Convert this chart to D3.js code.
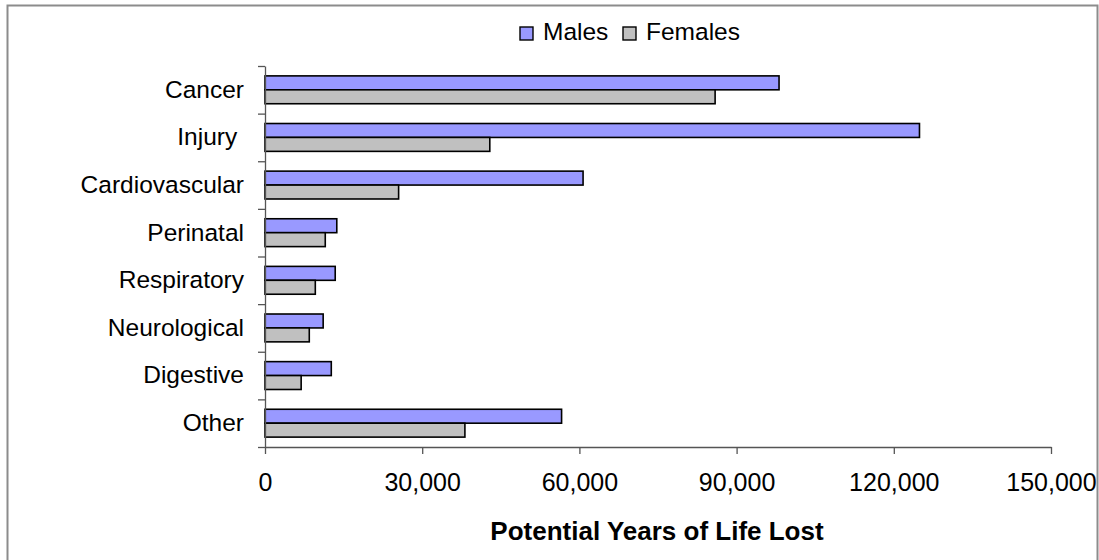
<!DOCTYPE html>
<html>
<head>
<meta charset="utf-8">
<script src="https://cdn.jsdelivr.net/npm/d3@7"></script>
<style>
  body { margin: 0; background: #fff; }
  svg text { font-family: "Liberation Sans", Arial, sans-serif; fill: #000; }
</style>
</head>
<body>
<svg width="1099" height="560"></svg>
<script>
var categories = ["Cancer", "Injury ", "Cardiovascular", "Perinatal", "Respiratory", "Neurological", "Digestive", "Other"];
var series = ["Males", "Females"];
var males = [98100, 124900, 60700, 13700, 13400, 11100, 12650, 56600];
var females = [85900, 42900, 25500, 11500, 9600, 8450, 6900, 38150];
var xTicks = [0, 30000, 60000, 90000, 120000, 150000];
var colors = {"Males": "#9999ff", "Females": "#c0c0c0"};

var svg = d3.select("svg");

// outer chart border
svg.append("rect")
  .attr("x", 7.5).attr("y", 5.5)
  .attr("width", 1090).attr("height", 570)
  .attr("fill", "none")
  .attr("stroke", "#8c8c8c")
  .attr("stroke-width", 2);

var plot = {left: 265, right: 1051, top: 66, bottom: 447};

var x = d3.scaleLinear().domain([0, 150000]).range([plot.left, plot.right]);
var y = d3.scaleBand().domain(categories).range([plot.top, plot.bottom]).padding(0);
var y1 = d3.scaleBand().domain(series).range([0, y.bandwidth()])
  .paddingInner(0).paddingOuter(0.71);

var data = categories.map(function(c, i) {
  return {cat: c, values: [{s: "Males", v: males[i]}, {s: "Females", v: females[i]}]};
});

// bars
var groups = svg.append("g").selectAll("g")
  .data(data)
  .enter().append("g")
  .attr("transform", function(d) { return "translate(0," + y(d.cat) + ")"; });

groups.selectAll("rect")
  .data(function(d) { return d.values; })
  .enter().append("rect")
  .attr("x", x(0))
  .attr("y", function(d) { return y1(d.s); })
  .attr("width", function(d) { return x(d.v) - x(0); })
  .attr("height", y1.bandwidth())
  .attr("fill", function(d) { return colors[d.s]; })
  .attr("stroke", "#000")
  .attr("stroke-width", 1.6);

// y axis: boundary ticks
var yIdx = d3.scaleLinear().domain([0, categories.length]).range([plot.top, plot.bottom]);
var yAxis = svg.append("g")
  .attr("transform", "translate(" + plot.left + ",0)")
  .call(d3.axisLeft(yIdx).ticks(categories.length).tickSize(7).tickSizeOuter(0).tickFormat(""));
yAxis.selectAll("line, path").attr("stroke", "#555").attr("stroke-width", 1.3);

// category labels
var yLab = svg.append("g")
  .attr("transform", "translate(" + plot.left + ",0)")
  .call(d3.axisLeft(y).tickSize(0).tickPadding(21));
yLab.select(".domain").remove();
yLab.selectAll("text")
  .style("font-size", "24.5px")
  .style("white-space", "pre")
  .attr("font-family", null);

// x axis
var xAxis = svg.append("g")
  .attr("transform", "translate(0," + plot.bottom + ")")
  .call(d3.axisBottom(x).tickValues(xTicks).tickSize(7).tickSizeOuter(0)
    .tickPadding(19).tickFormat(d3.format(",")));
xAxis.selectAll("line, path").attr("stroke", "#555").attr("stroke-width", 1.3);
xAxis.selectAll("text")
  .style("font-size", "25px")
  .attr("font-family", null);

// axis title
svg.append("text")
  .attr("x", 657)
  .attr("y", 540)
  .attr("text-anchor", "middle")
  .style("font-size", "26px")
  .style("font-weight", "bold")
  .text("Potential Years of Life Lost");

// legend
var legend = svg.append("g").selectAll("g")
  .data(series)
  .enter().append("g")
  .attr("transform", function(d, i) { return "translate(" + [520, 623][i] + ",27)"; });

legend.append("rect")
  .attr("width", 13).attr("height", 13)
  .attr("fill", function(d) { return colors[d]; })
  .attr("stroke", "#000")
  .attr("stroke-width", 1.4);

legend.append("text")
  .attr("x", 23)
  .attr("y", 13)
  .style("font-size", "24.5px")
  .text(function(d) { return d; });
</script>
</body>
</html>
